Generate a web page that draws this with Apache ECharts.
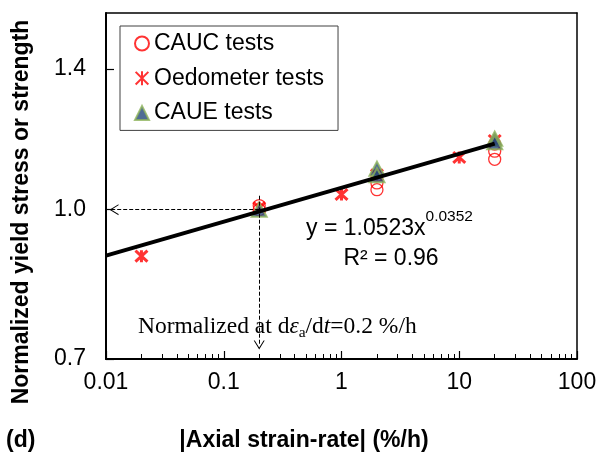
<!DOCTYPE html>
<html>
<head>
<meta charset="utf-8">
<script src="https://cdn.jsdelivr.net/npm/echarts@6/dist/echarts.min.js"></script>
<style>html,body{margin:0;padding:0;background:#fff;}#c{width:598px;height:454px;}</style>
</head>
<body>
<div id="c"></div>
<script>
// ---- data ----
const xTicks = [0.01, 0.1, 1, 10, 100];
const xTickLabels = ['0.01', '0.1', '1', '10', '100'];
const xMinorTicks = [0.02,0.03,0.04,0.05,0.06,0.07,0.08,0.09,
                     0.2,0.3,0.4,0.5,0.6,0.7,0.8,0.9,
                     2,3,4,5,6,7,8,9,
                     20,30,40,50,60,70,80,90];
const yTicks = [0.7, 1.0, 1.4];
const yTickLabels = ['0.7', '1.0', '1.4'];

const caucX = [0.2, 0.2, 2, 2, 2, 20, 20, 20];
const caucY = [1.0, 1.01, 1.085, 1.066, 1.049, 1.17, 1.15, 1.128];

const oedoX = [0.02, 0.2, 1, 2, 10, 20];
const oedoY = [0.895, 1.005, 1.037, 1.087, 1.133, 1.18];

const caueX = [0.2, 2, 2, 20, 20];
const caueY = [1.0, 1.103, 1.086, 1.185, 1.175];

const trendX = [0.01, 20];
const trendY = [0.896, 1.171];

// reference-rate guide arrows (dashed)
const hArrow = [[0.2, 1.0], [0.0117, 1.0]];
const vArrow = [[0.2, 1.034], [0.2, 0.724]];

const pair = (xs, ys) => xs.map((x, i) => [x, ys[i]]);
const near = (a, b) => Math.abs(Math.log10(a) - Math.log10(b)) < 1e-6;

const FONT = 'Liberation Sans';
const chevron = 'path://M0,10 L5,0 L10,10 L9,10 L5,2 L1,10 Z';
const asterisk = 'path://M0,0 L10,10 M10,0 L0,10 M5,-0.5 L5,10.5';

const frameAxis = (pos) => ({
  type: 'value', min: 0, max: 1, position: pos,
  axisLine: {show: true, onZero: false, lineStyle: {color: '#000', width: 1.5}},
  axisTick: {show: false}, axisLabel: {show: false}, splitLine: {show: false}
});

const chart = echarts.init(document.getElementById('c'), null, {renderer: 'canvas'});
chart.setOption({
  animation: false,
  backgroundColor: '#fff',
  grid: {left: 106, right: 21, top: 13, bottom: 95, outerBoundsMode: 'none'},
  legend: {
    data: ['CAUC tests', 'Oedometer tests', 'CAUE tests'],
    orient: 'vertical', left: 120, top: 26,
    padding: [6, 14, 6, 14], itemGap: 11.7,
    itemWidth: 14, itemHeight: 14,
    borderColor: '#404040', borderWidth: 1, backgroundColor: '#fff',
    textStyle: {fontSize: 23, fontFamily: FONT, color: '#000'}
  },
  xAxis: [{
    type: 'log', logBase: 10, min: 0.01, max: 100,
    axisLine: {show: true, onZero: false, lineStyle: {color: '#000', width: 2}},
    axisTick: {show: true, inside: true, length: 8, customValues: xTicks,
               lineStyle: {color: '#000', width: 1.2}},
    axisLabel: {customValues: xTicks, margin: 12, color: '#000', fontSize: 23, fontFamily: FONT,
                formatter: v => { const i = xTicks.findIndex(t => near(t, v)); return i >= 0 ? xTickLabels[i] : ''; }},
    splitLine: {show: false}, minorTick: {show: false}
  }, {
    type: 'log', logBase: 10, min: 0.01, max: 100, position: 'bottom',
    axisLine: {show: false},
    axisTick: {show: true, inside: true, length: 5, customValues: xMinorTicks,
               lineStyle: {color: '#000', width: 1}},
    axisLabel: {show: false}, splitLine: {show: false}
  }, frameAxis('top')],
  yAxis: [{
    type: 'log', logBase: 10, min: 0.7, max: 1.6,
    axisLine: {show: true, onZero: false, lineStyle: {color: '#000', width: 2}},
    axisTick: {show: true, inside: true, length: 8, customValues: yTicks,
               lineStyle: {color: '#000', width: 1.2}},
    axisLabel: {customValues: yTicks, margin: 20, color: '#000', fontSize: 23, fontFamily: FONT,
                formatter: v => { const i = yTicks.findIndex(t => near(t, v)); return i >= 0 ? yTickLabels[i] : ''; }},
    splitLine: {show: false}, minorTick: {show: false}
  }, frameAxis('right')],
  series: [{
    name: 'CAUC tests', type: 'scatter', data: pair(caucX, caucY),
    symbol: 'circle', symbolSize: 12, z: 2,
    itemStyle: {color: 'rgba(255,255,255,0)', borderColor: '#ff0000', borderWidth: 1.3}
  }, {
    name: 'Oedometer tests', type: 'scatter', data: pair(oedoX, oedoY),
    symbol: asterisk, symbolSize: 12, z: 3,
    itemStyle: {color: 'rgba(255,0,0,0)', borderColor: '#ff0000', borderWidth: 3}
  }, {
    name: 'CAUE tests', type: 'scatter', data: pair(caueX, caueY),
    symbol: 'triangle', symbolSize: [15, 14], z: 4,
    itemStyle: {color: '#24497a', borderColor: '#8db35a', borderWidth: 2}
  }, {
    name: 'trend', type: 'line', data: pair(trendX, trendY),
    symbol: 'none', z: 5, silent: true,
    lineStyle: {color: '#000', width: 4},
    markLine: {
      silent: true, symbol: ['none', chevron], symbolSize: [11, 9],
      lineStyle: {color: '#000', width: 1, type: [4, 2]},
      label: {show: false},
      data: [
        [{coord: hArrow[0]}, {coord: hArrow[1]}],
        [{coord: vArrow[0]}, {coord: vArrow[1]}]
      ]
    }
  }],
  graphic: [
    {type: 'text', x: 22, y: 212, rotation: Math.PI / 2, z: 10,
     style: {text: 'Normalized yield stress or strength', font: 'bold 23px "Liberation Sans"',
             fill: '#000', align: 'center', verticalAlign: 'middle'}},
    {type: 'text', x: 304, y: 441, z: 10,
     style: {text: '|Axial strain-rate| (%/h)', font: 'bold 23px "Liberation Sans"',
             fill: '#000', align: 'center', verticalAlign: 'middle'}},
    {type: 'text', x: 6, y: 441, z: 10,
     style: {text: '(d)', font: 'bold 23px "Liberation Sans"',
             fill: '#000', align: 'left', verticalAlign: 'middle'}},
    {type: 'text', x: 306, y: 229, z: 10,
     style: {text: '{m|y = 1.0523x}{s|0.0352}', align: 'left', verticalAlign: 'middle',
             rich: {m: {fontSize: 23, fontFamily: FONT, color: '#000', lineHeight: 40},
                    s: {fontSize: 15.5, fontFamily: FONT, color: '#000', lineHeight: 16, verticalAlign: 'top'}}}},
    {type: 'text', x: 391, y: 259, z: 10,
     style: {text: 'R² = 0.96', font: '23px "Liberation Sans"', fill: '#000',
             align: 'center', verticalAlign: 'middle'}},
    {type: 'text', x: 138, y: 327, z: 10,
     style: {text: '{n|Normalized at d}{i|ε}{b|a}{n|/d}{i|t}{n|=0.2 %/h}', align: 'left', verticalAlign: 'middle',
             rich: {n: {fontSize: 23.5, fontFamily: 'Liberation Serif', color: '#000', lineHeight: 28},
                    i: {fontSize: 23.5, fontFamily: 'Liberation Serif', fontStyle: 'italic', color: '#000', lineHeight: 28},
                    b: {fontSize: 15.5, fontFamily: 'Liberation Serif', color: '#000', lineHeight: 16, verticalAlign: 'bottom'}}}}
  ]
});
</script>
</body>
</html>
